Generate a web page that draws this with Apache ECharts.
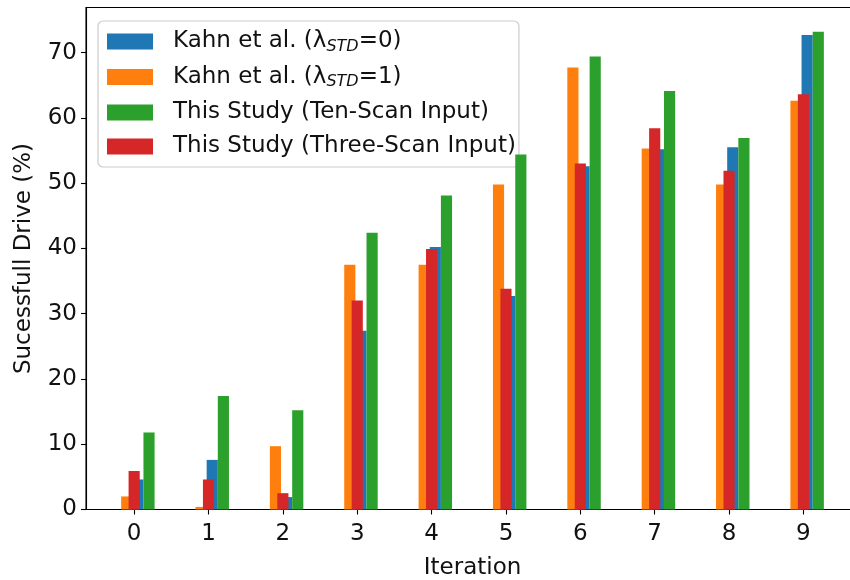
<!DOCTYPE html>
<html>
<head>
<meta charset="utf-8">
<script src="https://cdn.jsdelivr.net/npm/echarts@6/dist/echarts.min.js"></script>
<style>
  html, body { margin: 0; padding: 0; background: #fff; }
  #chart { width: 850px; height: 580px; }
</style>
</head>
<body>
<div id="chart"></div>
<script>
// Iterations on the x axis
const iterations = [0, 1, 2, 3, 4, 5, 6, 7, 8, 9];

// Successful-drive percentages per iteration
const kahnStd0 = [4.6, 7.6, 1.9, 27.4, 40.2, 32.7, 52.6, 55.2, 55.5, 72.7];
const kahnStd1 = [2.0, 0.4, 9.7, 37.5, 37.5, 49.8, 67.7, 55.3, 49.8, 62.6];
const tenScan = [11.8, 17.4, 15.2, 42.4, 48.1, 54.4, 69.4, 64.1, 56.9, 73.2];
const threeScan = [5.9, 4.6, 2.5, 32.0, 39.9, 33.8, 53.0, 58.4, 51.9, 63.6];

// Tick labels
const yTicks = [0, 10, 20, 30, 40, 50, 60, 70];

const FONT = 'DejaVu Sans';
const FS = 23;
const BAR_W = 0.15; // bar width in x-axis units

function barRenderer(offset) {
  return function (params, api) {
    const x = api.value(0) + offset;
    const y = api.value(1);
    const p0 = api.coord([x - BAR_W / 2, y]);
    const p1 = api.coord([x + BAR_W / 2, 0]);
    return {
      type: 'rect',
      shape: { x: p0[0], y: p0[1], width: p1[0] - p0[0], height: p1[1] - p0[1] },
      style: { fill: api.visual('color') }
    };
  };
}

function barSeries(name, values, offset, color, z) {
  return {
    name: name,
    type: 'custom',
    renderItem: barRenderer(offset),
    itemStyle: { color: color },
    encode: { x: 0, y: 1 },
    data: iterations.map((it, i) => [it, values[i]]),
    z: z
  };
}

const names = [
  'Kahn et al. (λ{sub|STD}=0)',
  'Kahn et al. (λ{sub|STD}=1)',
  'This Study (Ten-Scan Input)',
  'This Study (Three-Scan Input)'
];

const chart = echarts.init(document.getElementById('chart'), null, { renderer: 'canvas' });

chart.setOption({
  animation: false,
  backgroundColor: '#ffffff',
  textStyle: { fontFamily: FONT },
  grid: {
    left: 86, top: 7.5, width: 773, height: 502,
    containLabel: false,
    outerBoundsMode: 'none',
    show: true, borderColor: '#000', borderWidth: 1.1, backgroundColor: 'transparent'
  },
  legend: {
    orient: 'vertical',
    left: 98, top: 21,
    data: names,
    icon: 'rect',
    itemWidth: 46, itemHeight: 16,
    itemGap: 11,
    padding: [9, 3, 9, 9],
    backgroundColor: 'rgba(255,255,255,0.8)',
    borderColor: '#cccccc', borderWidth: 1.2, borderRadius: 5,
    textStyle: {
      fontFamily: FONT, fontSize: FS, color: '#111',
      padding: [0, 0, 0, 15],
      rich: {
        sub: { fontFamily: FONT, fontSize: 16, fontStyle: 'italic', color: '#111', padding: [10, 0, 0, 0] }
      }
    }
  },
  xAxis: {
    type: 'value',
    min: -0.6475, max: 9.7475,
    name: 'Iteration',
    nameLocation: 'middle',
    nameGap: 47,
    nameTextStyle: { fontFamily: FONT, fontSize: FS, color: '#111' },
    axisLine: { onZero: false, lineStyle: { color: '#000', width: 1.1 } },
    axisTick: { customValues: iterations, length: 5, lineStyle: { color: '#000', width: 1.1 } },
    axisLabel: { customValues: iterations, margin: 13, fontFamily: FONT, fontSize: FS, color: '#111' },
    splitLine: { show: false }
  },
  yAxis: {
    type: 'value',
    min: 0, max: 76.9,
    name: 'Sucessfull Drive (%)',
    nameLocation: 'middle',
    nameGap: 50,
    nameTextStyle: { fontFamily: FONT, fontSize: FS, color: '#111' },
    axisLine: { show: true, onZero: false, lineStyle: { color: '#000', width: 1.1 } },
    axisTick: { show: true, customValues: yTicks, length: 5, lineStyle: { color: '#000', width: 1.1 } },
    axisLabel: { customValues: yTicks, margin: 9, fontFamily: FONT, fontSize: FS, color: '#111' },
    splitLine: { show: false }
  },
  series: [
    barSeries(names[0], kahnStd0, 0.05, '#1f77b4', 2),
    barSeries(names[1], kahnStd1, -0.1, '#ff7f0e', 3),
    barSeries(names[2], tenScan, 0.2, '#2ca02c', 4),
    barSeries(names[3], threeScan, 0, '#d62728', 5)
  ]
});
</script>
</body>
</html>
